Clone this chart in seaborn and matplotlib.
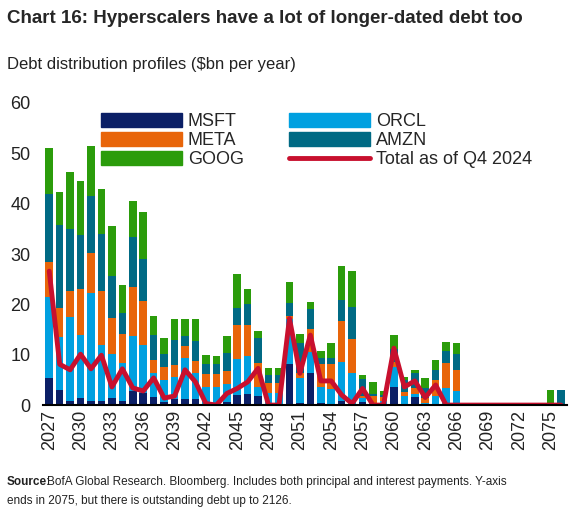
import numpy as np
import pandas as pd
import matplotlib
matplotlib.use("Agg")
import matplotlib.pyplot as plt
import seaborn as sns

years = list(range(2027, 2077))
msft = [5.4,3,0.8,1.5,0.8,0.8,1.5,0.8,2.8,2.4,1.6,0.7,1.2,1.2,1.3,0.3,0.2,0.6,2,2.2,1.8,0,0,8.1,0.5,6.3,0.4,0.3,0.9,0.3,0.7,0,0,3.6,0,1.6,0.2,0,0,0] + [0]*10
orcl = [16,10.6,16.7,12.4,21.5,11.1,8.6,7.5,11,9.6,4.8,4.3,4.3,8.1,5,3.3,3.3,3.6,7.1,7.5,1.8,2.3,2.3,9,4.9,4.3,3.2,2.8,7.7,6,0.7,0.5,0.9,4,1.8,0.6,0.2,1.8,3.3,2.8] + [0]*10
meta = [7,5.7,5.2,9.1,7.9,10.8,7.2,5.8,9.7,8.7,2.5,2.5,2.5,2.4,2.4,2.6,2.7,2.5,6.9,6.2,4.8,2.1,2.1,0.5,0.9,4.6,4.6,5.1,8.1,6.9,0.4,1.4,0.7,1,0.8,1.1,1.1,3.1,5,4.2] + [0]*10
amzn = [13.6,16.5,12.3,10.7,11.4,11.3,8.4,4.1,9.8,8.4,5,2.7,4.9,2.1,4,2,1.9,3.7,3.3,4.2,5,1.6,1.6,2.7,6,3.9,1.2,1.2,4.2,6.3,3.4,0.3,0.4,2.5,2.4,3,1.8,2,2.4,3.2] + [0]*9 + [3]
goog = [9,6.6,11.3,10.8,9.9,9,9.8,5.7,7.3,9.3,3.7,3.2,4.1,3.2,4.3,1.7,1.7,3.3,6.7,2.9,1.4,1.4,1.4,4.1,1.8,1.4,1.4,2.9,6.8,7.1,0.7,2.3,0.8,2.8,0.6,0.7,2.1,2,1.9,2.1] + [0]*8 + [3,0]
total = [26.6,8.1,7,10.1,7.2,9.9,3.6,7.2,3.4,2.8,5.4,1.4,1.8,7,4.6,0.3,0,2.3,3.3,4.6,7.3,0,0,17.2,6.3,13.9,4.8,4.8,2,0.3,3.3,0,0,11.3,3.6,4.8,1.5,4,0,0] + [0]*10

series = [("MSFT", msft, "#0b1f66"), ("ORCL", orcl, "#00a0e0"), ("META", meta, "#e8650a"),
          ("AMZN", amzn, "#006a84"), ("GOOG", goog, "#2b9c0b")]

sns.set_theme(style="white")
plt.rcParams['font.family'] = ['Liberation Sans', 'DejaVu Sans']

fig = plt.figure(figsize=(5.73, 5.2), dpi=100)
ax = fig.add_axes([0.075, 0.221, 0.915, 0.581])

df = pd.DataFrame({"year": [str(y) for y in years]})
cum = np.zeros(len(years))
cums = []
for name, vals, col in series:
    cum = cum + np.array(vals, dtype=float)
    cums.append((name, cum.copy(), col))
for name, c, col in reversed(cums):
    sns.barplot(x=df["year"], y=c, color=col, width=0.72, ax=ax, saturation=1, edgecolor="none")
from matplotlib.patches import Patch
from matplotlib.lines import Line2D
sns.lineplot(x=np.arange(len(years)), y=total, color="#c8102e", linewidth=3.5, ax=ax)

ax.set_xlim(-0.6, len(years) - 0.4)
ax.set_ylim(0, 60)
ax.set_yticks(range(0, 61, 10))
ax.set_xticks(range(0, len(years), 3))
ax.set_xticklabels([str(y) for y in years[::3]], rotation=90)
ax.tick_params(axis='both', labelsize=13, length=0, colors="#222222")
ax.tick_params(axis='y', pad=9)
ax.set_xlabel(""); ax.set_ylabel("")
for s in ["top", "right", "left"]:
    ax.spines[s].set_visible(False)
ax.spines["bottom"].set_color("black")
ax.spines["bottom"].set_linewidth(1.5)

hs = [Patch(color=col) for _, _, col in series] + [Line2D([], [], color="#c8102e", lw=3.5)]
labels = [n for n, _, _ in series] + ["Total as of Q4 2024"]
order = [0, 2, 4, 1, 3, 5]
ax.legend([hs[i] for i in order], [labels[i] for i in order], ncol=2, loc="upper left",
          bbox_to_anchor=(0.08, 1.02), frameon=False, fontsize=13, handlelength=4.5,
          handleheight=0.8, columnspacing=2.5, labelspacing=0.1, handletextpad=0.3)

fig.text(0.012, 0.965, "Chart 16: Hyperscalers have a lot of longer-dated debt too", fontsize=13.5,
         fontweight="bold", family=['Liberation Sans Narrow', 'Liberation Sans', 'DejaVu Sans'], va="center")
fig.text(0.012, 0.875, "Debt distribution profiles ($bn per year)", fontsize=12, va="center", color="#222222")
fig.text(0.012, 0.062, "Source:", fontsize=8.5, fontweight="bold", va="bottom", color="#222222")
fig.text(0.082, 0.062, "BofA Global Research. Bloomberg. Includes both principal and interest payments. Y-axis",
         fontsize=8.5, va="bottom", color="#222222")
fig.text(0.012, 0.025, "ends in 2075, but there is outstanding debt up to 2126.",
         fontsize=8.5, va="bottom", color="#222222")

fig.savefig("out.png", dpi=100)
